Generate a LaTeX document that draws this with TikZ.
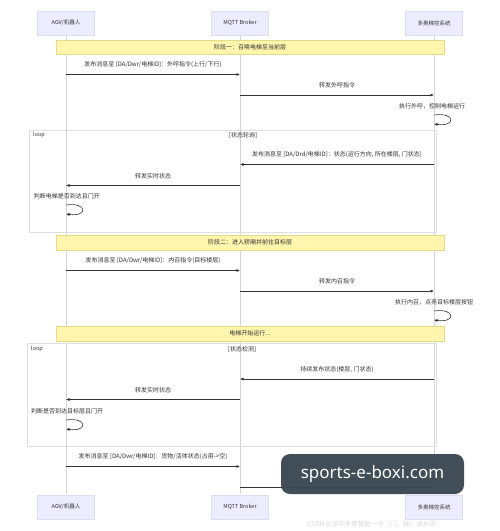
\documentclass[tikz,border=0pt]{standalone}
\usepackage{fontspec}
\setmainfont{Noto Sans CJK SC}
\newfontfamily\wmfont{Noto Sans}
\usetikzlibrary{arrows.meta}
\definecolor{actfill}{HTML}{ECECFF}
\definecolor{actline}{HTML}{DCDCF2}
\definecolor{notefill}{HTML}{FFF5AD}
\definecolor{noteline}{HTML}{E3DA8A}
\definecolor{ink}{HTML}{333333}
\definecolor{life}{HTML}{D4D4D4}
\definecolor{loopline}{HTML}{E0E0E0}
\definecolor{wmcol}{HTML}{3B4852}
\tikzset{
  actor/.style={draw=actline, fill=actfill, minimum width=57pt, minimum height=24pt, inner sep=0pt, font=\fontsize{5.5}{6.5}\selectfont},
  lifeline/.style={draw=life, line width=0.6pt},
  note/.style={draw=noteline, fill=notefill, minimum width=388pt, minimum height=14.5pt, inner sep=0pt},
  msg/.style={draw=ink, line width=0.6pt, -{Latex[length=3.5pt,width=3pt]}},
  lbl/.style={midway, yshift=9.5pt, inner sep=0pt},
  loopbox/.style={draw=loopline, line width=0.6pt},
  looptag/.style={inner sep=0pt, font=\fontsize{5.5}{6.5}\selectfont},
  selflbl/.style={inner sep=0pt},
  wmbox/.style={fill=wmcol, rounded corners=9pt, minimum width=183pt, minimum height=40pt, text=white, font=\wmfont\fontsize{17}{20}\selectfont, inner sep=0pt, opacity=0.97, text opacity=1}
}
\begin{document}
\begin{tikzpicture}[x=1pt,y=-1pt,font=\fontsize{6}{7}\selectfont,text=ink]
\useasboundingbox (0,0) rectangle (500,531);
\fill[white] (0,0) rectangle (500,531);
% lifelines
\coordinate (aTop) at (66,35); \coordinate (aBot) at (66,494);
\coordinate (mTop) at (240,35); \coordinate (mBot) at (240,494);
\coordinate (dTop) at (434,35); \coordinate (dBot) at (434,494);
\draw[lifeline] (aTop) -- (aBot);
\draw[lifeline] (mTop) -- (mBot);
\draw[lifeline] (dTop) -- (dBot);
% actors
\node[actor] (aT) at (66,23) {AGV/机器人};
\node[actor] (mT) at (240,23) {MQTT Broker};
\node[actor] (dT) at (434,23) {多奥梯控系统};
\node[actor] (aB) at (66,507) {AGV/机器人};
\node[actor] (mB) at (240,507) {MQTT Broker};
\node[actor] (dB) at (434,507) {多奥梯控系统};
% loop frames
\coordinate (l1a) at (29,130); \coordinate (l1b) at (436,232);
\draw[loopbox] (l1a) rectangle (l1b);
\node[looptag, anchor=west] (l1t) at (33,135) {loop};
\node[inner sep=0pt] (l1c) at (243,135.5) {[状态轮询]};
\coordinate (l2a) at (27,343); \coordinate (l2b) at (436,446);
\draw[loopbox] (l2a) rectangle (l2b);
\node[looptag, anchor=west] (l2t) at (31,349) {loop};
\node[inner sep=0pt] (l2c) at (242,349.5) {[状态检测]};
% notes
\node[note] (n1) at (250,47) {阶段一：召唤电梯至当前层};
\node[note] (n2) at (250,242.5) {阶段二：进入轿厢并前往目标层};
\node[note] (n3) at (250,333.5) {电梯开始运行...};
% phase 1
\coordinate (p1s) at (66,74.5); \coordinate (p1e) at (240,74.5);
\draw[msg] (p1s) -- node[lbl] {发布消息至 [DA/Dwr/电梯ID]：外呼指令(上行/下行)} (p1e);
\coordinate (p2s) at (240,95); \coordinate (p2e) at (434,95);
\draw[msg] (p2s) -- node[lbl] {转发外呼指令} (p2e);
\node[selflbl] (s1) at (432,106) {执行外呼，控制电梯运行};
\coordinate (s1a) at (434,115); \coordinate (s1b) at (434,124);
\draw[msg] (s1a) .. controls (456,112) and (456,127) .. (s1b);
% loop 1
\coordinate (q1s) at (434,164.5); \coordinate (q1e) at (240,164.5);
\draw[msg] (q1s) -- node[lbl] {发布消息至 [DA/Drd/电梯ID]：状态(运行方向, 所在楼层, 门状态)} (q1e);
\coordinate (q2s) at (240,185.5); \coordinate (q2e) at (66,185.5);
\draw[msg] (q2s) -- node[lbl] {转发实时状态} (q2e);
\node[selflbl] (s2) at (67,196) {判断电梯是否到达且门开};
\coordinate (s2a) at (66,205); \coordinate (s2b) at (66,214);
\draw[msg] (s2a) .. controls (88,202) and (88,217) .. (s2b);
% phase 2
\coordinate (r1s) at (66,270.5); \coordinate (r1e) at (240,270.5);
\draw[msg] (r1s) -- node[lbl] {发布消息至 [DA/Dwr/电梯ID]：内召指令(目标楼层)} (r1e);
\coordinate (r2s) at (240,291); \coordinate (r2e) at (434,291);
\draw[msg] (r2s) -- node[lbl] {转发内召指令} (r2e);
\node[selflbl] (s3) at (434,302) {执行内召，点亮目标楼层按钮};
\coordinate (s3a) at (434,311); \coordinate (s3b) at (434,320);
\draw[msg] (s3a) .. controls (456,308) and (456,323) .. (s3b);
% loop 2
\coordinate (t1s) at (434,379); \coordinate (t1e) at (240,379);
\draw[msg] (t1s) -- node[lbl] {持续发布状态(楼层, 门状态)} (t1e);
\coordinate (t2s) at (240,399.5); \coordinate (t2e) at (66,399.5);
\draw[msg] (t2s) -- node[lbl] {转发实时状态} (t2e);
\node[selflbl] (s4) at (67,411) {判断是否到达目标层且门开};
\coordinate (s4a) at (66,420); \coordinate (s4b) at (66,429);
\draw[msg] (s4a) .. controls (88,417) and (88,432) .. (s4b);
% final
\coordinate (u1s) at (66,466.5); \coordinate (u1e) at (240,466.5);
\draw[msg] (u1s) -- node[lbl] {发布消息至 [DA/Dwr/电梯ID]：货物/活体状态(占用->空)} (u1e);
\coordinate (u2s) at (240,487); \coordinate (u2e) at (434,487);
\draw[msg] (u2s) -- (u2e);
% watermarks
\node[wmbox] (wm) at (372.5,474) {sports-e-boxi.com};
\node[anchor=west, inner sep=0pt, text=black!15, font=\fontsize{6.5}{7}\selectfont] (csdn) at (307,524) {CSDN @深圳多奥智能一卡（门、梯）通系统};
\end{tikzpicture}
\end{document}
